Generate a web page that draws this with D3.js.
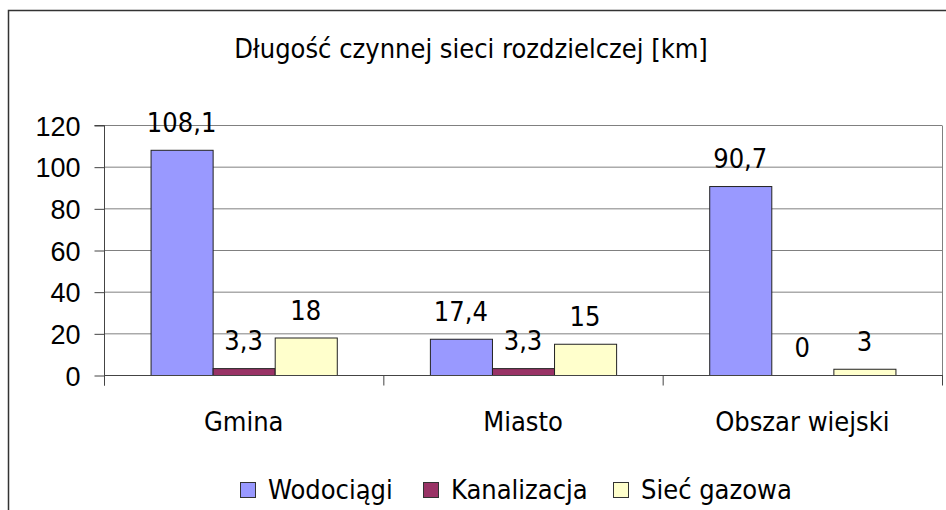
<!DOCTYPE html>
<html>
<head>
<meta charset="utf-8">
<script src="https://cdn.jsdelivr.net/npm/d3@7"></script>
<style>
  html, body { margin: 0; padding: 0; background: #fff; }
  svg { display: block; font-family: "DejaVu Sans Condensed", "DejaVu Sans", sans-serif; }
</style>
</head>
<body>
<div id="chart"></div>
<script>
// Długość czynnej sieci rozdzielczej — grouped bars, Excel-style
const categories = ["Gmina", "Miasto", "Obszar wiejski"];
const seriesNames = ["Wodociągi", "Kanalizacja", "Sieć gazowa"];
const wodociagi = [108.1, 17.4, 90.7];
const kanalizacja = [3.3, 3.3, 0];
const siecGazowa = [18, 15, 3];
const yTicks = [0, 20, 40, 60, 80, 100, 120];
const title = "Długość czynnej sieci rozdzielczej [km]";

const seriesValues = [wodociagi, kanalizacja, siecGazowa];
const seriesColors = ["#9999ff", "#993366", "#ffffcc"];

const width = 946, height = 510;
const plot = { left: 104, right: 942, top: 125, bottom: 375 };
const fontSize = 27;

const svg = d3.select("#chart").append("svg")
  .attr("width", width)
  .attr("height", height);

// outer chart frame (runs past the right and bottom edges)
svg.append("rect")
  .attr("x", 8.5).attr("y", 10.5)
  .attr("width", 960).attr("height", 520)
  .attr("fill", "none")
  .attr("stroke", "#333")
  .attr("stroke-width", 1.5);

// title
svg.append("text")
  .attr("x", 471).attr("y", 58)
  .attr("text-anchor", "middle")
  .attr("font-size", fontSize)
  .text(title);

const x0 = d3.scaleBand()
  .domain(categories)
  .range([plot.left, plot.right]);

// gap between groups is 150% of a bar
const barW = x0.bandwidth() / (seriesNames.length + 1.5);
const x1 = d3.scaleBand()
  .domain(seriesNames)
  .range([0, barW * seriesNames.length]);
const groupOffset = (x0.bandwidth() - barW * seriesNames.length) / 2;

const y = d3.scaleLinear()
  .domain([0, 120])
  .range([plot.bottom, plot.top]);

// gridlines
svg.append("g")
  .selectAll("line")
  .data(yTicks)
  .join("line")
  .attr("x1", plot.left).attr("x2", plot.right)
  .attr("y1", d => y(d) + 0.5).attr("y2", d => y(d) + 0.5)
  .attr("stroke", "#808080")
  .attr("stroke-width", 1);

// right border of plot area
svg.append("line")
  .attr("x1", plot.right + 0.5).attr("x2", plot.right + 0.5)
  .attr("y1", plot.top + 0.5).attr("y2", plot.bottom)
  .attr("stroke", "#808080");

// bars
const groups = svg.append("g")
  .selectAll("g")
  .data(categories)
  .join("g")
  .attr("transform", c => `translate(${x0(c) + groupOffset},0)`);

groups.each(function (c, ci) {
  const g = d3.select(this);
  seriesNames.forEach((s, si) => {
    const v = seriesValues[si][ci];
    if (v > 0) {
      g.append("rect")
        .attr("x", x1(s) + 0.5)
        .attr("y", y(v) + 0.5)
        .attr("width", barW)
        .attr("height", y(0) - y(v))
        .attr("fill", seriesColors[si])
        .attr("stroke", "#222")
        .attr("stroke-width", 1);
    }
    g.append("text")
      .attr("x", x1(s) + barW / 2)
      .attr("y", y(v) - 18)
      .attr("text-anchor", "middle")
      .attr("font-size", fontSize)
      .text(String(v).replace(".", ","));
  });
});

// y axis
const yAxis = svg.append("g")
  .attr("transform", `translate(${plot.left + 0.5},0.5)`)
  .call(d3.axisLeft(y).tickValues(yTicks).tickSize(10).tickPadding(14));
yAxis.select(".domain").attr("stroke", "#444").attr("d", `M-10,${plot.top}H0V${plot.bottom + 10}`);
yAxis.selectAll(".tick line").attr("stroke", "#444");
yAxis.selectAll(".tick text")
  .attr("font-size", fontSize)
  .attr("font-family", null)
  .attr("fill", "#000")
  .attr("dy", "0.36em");

// x axis
const xAxis = svg.append("g")
  .attr("transform", `translate(0,${plot.bottom + 0.5})`);
xAxis.append("line")
  .attr("x1", plot.left).attr("x2", plot.right + 1)
  .attr("stroke", "#444");
xAxis.selectAll("line.tick")
  .data(categories.map(c => x0(c)).concat([plot.right]))
  .join("line")
  .attr("class", "tick")
  .attr("x1", d => d + 0.5).attr("x2", d => d + 0.5)
  .attr("y1", 0).attr("y2", 10)
  .attr("stroke", "#444");
xAxis.selectAll("text")
  .data(categories)
  .join("text")
  .attr("x", c => x0(c) + x0.bandwidth() / 2)
  .attr("y", 55)
  .attr("text-anchor", "middle")
  .attr("font-size", fontSize)
  .text(c => c);

// legend
const legendX = [240, 423, 613];
const legend = svg.append("g")
  .selectAll("g")
  .data(seriesNames)
  .join("g")
  .attr("transform", (d, i) => `translate(${legendX[i]},482)`);
legend.append("rect")
  .attr("x", 0.5).attr("y", 0.5)
  .attr("width", 15).attr("height", 15)
  .attr("fill", (d, i) => seriesColors[i])
  .attr("stroke", "#333");
legend.append("text")
  .attr("x", 28).attr("y", 17)
  .attr("font-size", fontSize)
  .text(d => d);
</script>
</body>
</html>
